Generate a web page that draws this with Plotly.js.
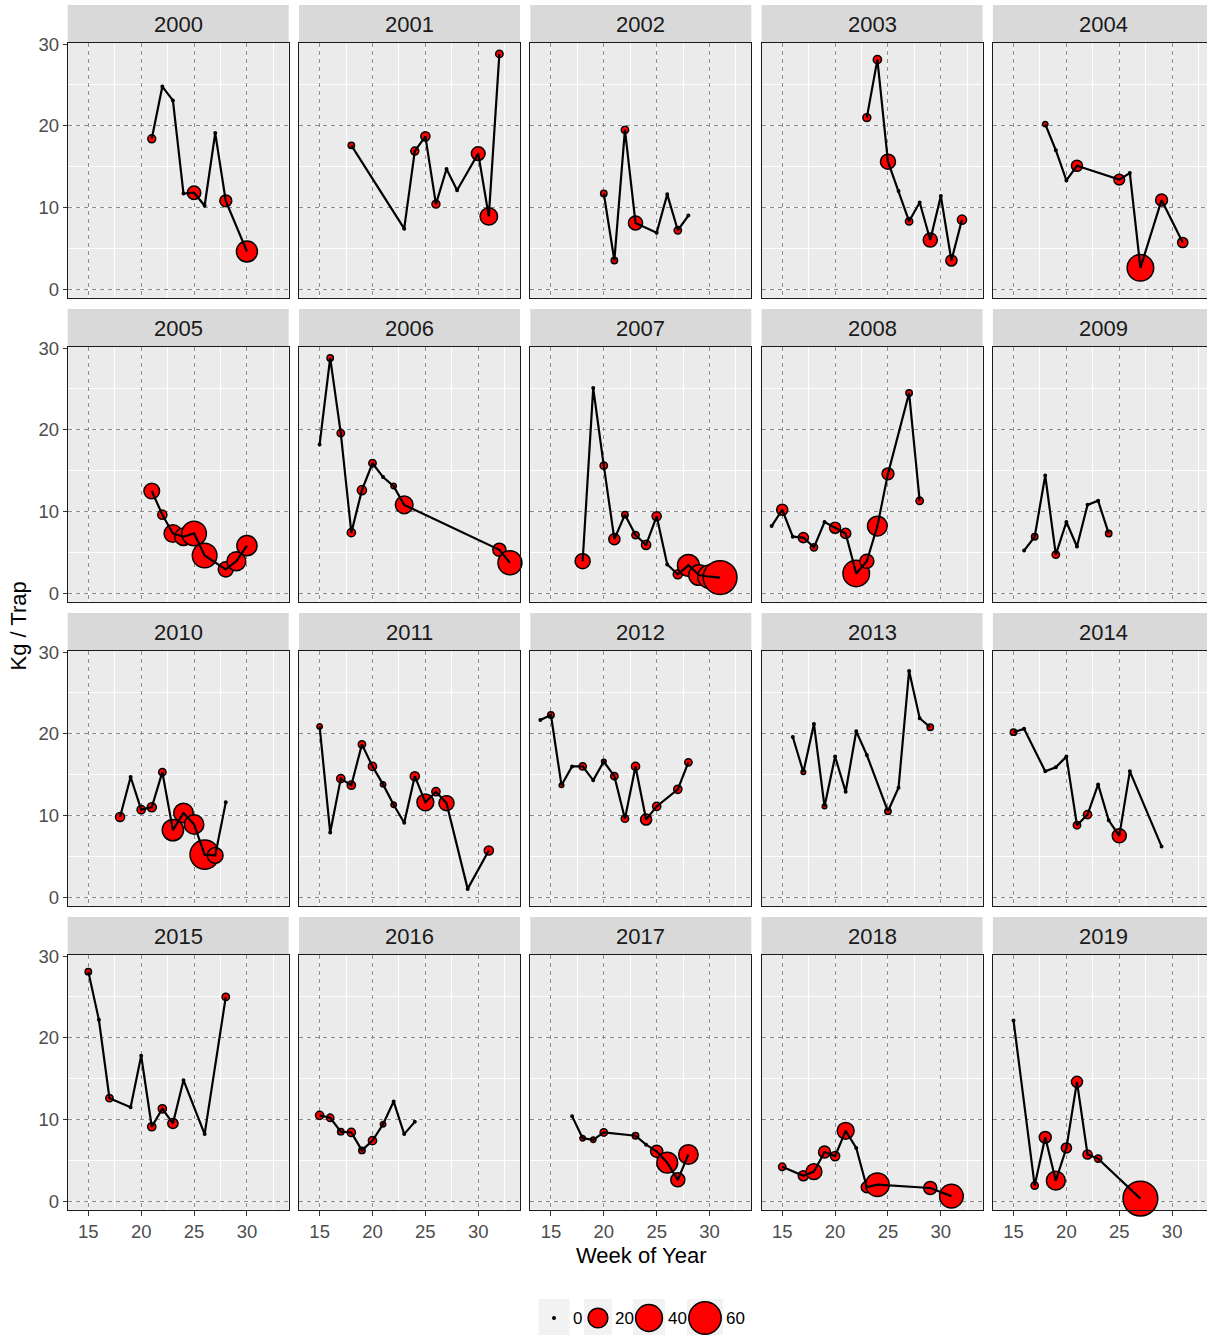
<!DOCTYPE html>
<html><head><meta charset="utf-8">
<script src="https://cdn.plot.ly/plotly-3.0.1.min.js"></script>
<style>html,body{margin:0;padding:0;overflow:hidden;background:#fff}#chart{width:1216px;height:1335px}</style>
</head><body><div id="chart"></div>
<script>
// ---------------- data ----------------
const years = [2000,2001,2002,2003,2004,2005,2006,2007,2008,2009,2010,2011,2012,2013,2014,2015,2016,2017,2018,2019];

const week_2000 = [21,22,23,24,25,26,27,28,30];
const kg_2000   = [18.4,24.8,23.1,11.7,11.8,10.2,19.1,10.8,4.6];
const n_2000    = [2,0,0,0,8,0,0,6,23];

const week_2001 = [18,23,24,25,26,27,28,30,31,32];
const kg_2001   = [17.6,7.4,16.9,18.7,10.4,14.7,12.1,16.6,8.9,28.8];
const n_2001    = [1,0,2,3,2,0,0,8.5,15,1.6];

const week_2002 = [20,21,22,23,25,26,27,28];
const kg_2002   = [11.7,3.5,19.5,8.1,6.9,11.6,7.2,9.0];
const n_2002    = [1,1,1.6,9,0,0,1.6,0];

const week_2003 = [23,24,25,26,27,28,29,30,31,32];
const kg_2003   = [21.0,28.1,15.6,12.0,8.3,10.6,6.0,11.4,3.5,8.5];
const n_2003    = [2,2.2,10.6,0,1.6,0,9,0,5,3];

const week_2004 = [18,19,20,21,25,26,27,29,31];
const kg_2004   = [20.2,17.0,13.3,15.1,13.4,14.2,2.6,10.9,5.7];
const n_2004    = [0.6,0,0,5,4.5,0,39,6,4];

const week_2005 = [21,22,23,24,25,26,28,29,30];
const kg_2005   = [12.5,9.6,7.3,6.9,7.3,4.6,2.9,3.9,5.8];
const n_2005    = [11.7,3,15.4,15,33,33,10.6,18,21];

const week_2006 = [15,16,17,18,19,20,21,22,23,32,33];
const kg_2006   = [18.2,28.8,19.6,7.4,12.6,15.9,14.2,13.1,10.8,5.3,3.7];
const n_2006    = [0,1,1.6,2.2,3,1.6,0,0.6,15.4,7.6,31];

const week_2007 = [18,19,20,21,22,23,24,25,26,27,28,29,30,31];
const kg_2007   = [3.9,25.1,15.6,6.6,9.6,7.1,5.9,9.4,3.5,2.3,3.4,2.2,2.0,1.9];
const n_2007    = [10.6,0,1.6,5,1,1.6,3,3,0,3,25,22,30,66];

const week_2008 = [14,15,16,17,18,19,20,21,22,23,24,25,27,28];
const kg_2008   = [8.2,10.2,6.9,6.8,5.6,8.7,8.0,7.3,2.4,3.9,8.2,14.6,24.5,11.3];
const n_2008    = [0,5,0,4,1.6,0,5,4,39,9,20,6,1,1.6];

const week_2009 = [16,17,18,19,20,21,22,23,24];
const kg_2009   = [5.2,6.9,14.4,4.7,8.7,5.7,10.8,11.3,7.3];
const n_2009    = [0,1,0,1.6,0,0,0,0,1];

const week_2010 = [18,19,20,21,22,23,24,25,26,27,28];
const kg_2010   = [9.8,14.7,10.7,11.0,15.3,8.2,10.3,8.9,5.2,5.1,11.6];
const n_2010    = [3,0,2.2,3,1.6,24,19.5,19.5,48,11.7,0];

const week_2011 = [15,16,17,18,19,20,21,22,23,24,25,26,27,29,31];
const kg_2011   = [20.9,7.9,14.5,13.7,18.7,16.0,13.8,11.3,9.1,14.8,11.6,12.9,11.5,1.0,5.7];
const n_2011    = [0.6,0,2.2,2.2,1.6,2.2,0.6,0.6,0,3,14,2.2,10.6,0,3];

const week_2012 = [14,15,16,17,18,19,20,21,22,23,24,25,27,28];
const kg_2012   = [21.7,22.3,13.7,16.0,16.0,14.3,16.6,14.8,9.6,16.0,9.5,11.1,13.2,16.5];
const n_2012    = [0,1,0.3,0,1.6,0,0.3,1.6,1.6,2.2,5,2.2,2.2,1.6];

const week_2013 = [16,17,18,19,20,21,22,23,25,26,27,28,29];
const kg_2013   = [19.6,15.3,21.2,11.1,17.2,12.9,20.3,17.4,10.5,13.4,27.7,21.9,20.8];
const n_2013    = [0,0.3,0,0.3,0,0,0,0,1,0,0,0,1];

const week_2014 = [15,16,18,19,20,21,22,23,24,25,26,29];
const kg_2014   = [20.2,20.6,15.4,15.9,17.2,8.8,10.1,13.8,9.4,7.5,15.4,6.2];
const n_2014    = [1,0,0,0,0,1.6,2.2,0,0,9,0,0];

const week_2015 = [15,16,17,19,20,21,22,23,24,26,28];
const kg_2015   = [28.1,22.2,12.6,11.5,17.8,9.1,11.3,9.5,14.8,8.2,25.0];
const n_2015    = [1,0,1.6,0,0,2.2,2.2,4,0,0,1.6];

const week_2016 = [15,16,17,18,19,20,21,22,23,24];
const kg_2016   = [10.5,10.2,8.5,8.4,6.2,7.4,9.4,12.2,8.2,9.7];
const n_2016    = [2.2,1.6,1,2.2,1,2.2,0.6,0,0,0];

const week_2017 = [17,18,19,20,23,24,25,26,27,28];
const kg_2017   = [10.4,7.7,7.5,8.4,8.0,6.9,6.1,4.7,2.6,5.7];
const n_2017    = [0,0.6,0.6,1.6,1,0,6.3,22.6,9,19.5];

const week_2018 = [15,17,18,19,20,21,22,23,24,29,31];
const kg_2018   = [4.2,3.1,3.6,6.0,5.5,8.6,6.5,1.7,2.0,1.6,0.6];
const n_2018    = [1.6,4,12,6,3,14,0,5,30,7.6,30];

const week_2019 = [15,17,18,19,20,21,22,23,27];
const kg_2019   = [22.1,1.9,7.8,2.5,6.5,14.6,5.7,5.2,0.3];
const n_2019    = [0,1.6,6,18,4,5,3,1.6,70];

const legendValues = [0,20,40,60];
const xTickVals = [15,20,25,30];
const yTickVals = [0,10,20,30];
const xTitle = 'Week of Year';
const yTitle = 'Kg / Trap';

const seriesByYear = {
  2000:[week_2000,kg_2000,n_2000], 2001:[week_2001,kg_2001,n_2001], 2002:[week_2002,kg_2002,n_2002],
  2003:[week_2003,kg_2003,n_2003], 2004:[week_2004,kg_2004,n_2004], 2005:[week_2005,kg_2005,n_2005],
  2006:[week_2006,kg_2006,n_2006], 2007:[week_2007,kg_2007,n_2007], 2008:[week_2008,kg_2008,n_2008],
  2009:[week_2009,kg_2009,n_2009], 2010:[week_2010,kg_2010,n_2010], 2011:[week_2011,kg_2011,n_2011],
  2012:[week_2012,kg_2012,n_2012], 2013:[week_2013,kg_2013,n_2013], 2014:[week_2014,kg_2014,n_2014],
  2015:[week_2015,kg_2015,n_2015], 2016:[week_2016,kg_2016,n_2016], 2017:[week_2017,kg_2017,n_2017],
  2018:[week_2018,kg_2018,n_2018], 2019:[week_2019,kg_2019,n_2019]
};

// ---------------- geometry / style ----------------
const W = 1216, H = 1335;
const left0 = 67.7, colPitch = 231.3, panelW = 221;
const top0 = 43.3, rowPitch = 304, panelH = 254.4, stripH = 38.3;
const FONT = 'Liberation Sans, Arial, Helvetica, sans-serif';
const OUTLINE = 1.5;
function diam(v){ return 4 + 3.85*Math.sqrt(v); }   // total diameter in px (ggplot area scale)
const px = x => x / W;
const py = y => 1 - y / H;

const traces = [];
const layout = {
  width: W, height: H,
  margin: {l:0, r:0, t:0, b:0},
  paper_bgcolor: '#ffffff', plot_bgcolor: '#EBEBEB',
  showlegend: false,
  font: {family: FONT, color: '#4D4D4D'},
  shapes: [], annotations: []
};

years.forEach((yr, i) => {
  const col = i % 5, row = Math.floor(i / 5);
  const L = left0 + col*colPitch, T = top0 + row*rowPitch;
  const sfx = i === 0 ? '' : String(i+1);
  const xa = 'x' + sfx, ya = 'y' + sfx;
  const [wk, kg, n] = seriesByYear[yr];

  traces.push({
    type: 'scatter', mode: 'markers', x: wk, y: kg, xaxis: xa, yaxis: ya,
    marker: {color: '#FF0000', opacity: 1, size: n.map(v => diam(v) - OUTLINE), line: {color: '#000000', width: OUTLINE}},
    hoverinfo: 'skip', cliponaxis: false
  });
  traces.push({
    type: 'scatter', mode: 'lines', x: wk, y: kg, xaxis: xa, yaxis: ya,
    line: {color: '#000000', width: 2.2}, hoverinfo: 'skip'
  });

  const bottomRow = row === 3, leftCol = col === 0;
  layout['xaxis' + sfx] = {
    domain: [px(L), px(L + panelW)], anchor: ya,
    range: [13.05, 33.95], tickmode: 'array', tickvals: xTickVals,
    showticklabels: bottomRow, ticks: bottomRow ? 'outside' : '', ticklen: 5, tickcolor: '#333333', tickwidth: 1,
    tickfont: {size: 18.5, color: '#4D4D4D', family: FONT},
    showgrid: true, gridcolor: '#8C8C8C', gridwidth: 1, griddash: '4px,4px',
    minor: {dtick: 2.5, tick0: 0, showgrid: true, gridcolor: '#FFFFFF', gridwidth: 1, griddash: 'solid'},
    zeroline: false, showline: true, mirror: true, linecolor: '#1A1A1A', linewidth: 1,
    fixedrange: true
  };
  layout['yaxis' + sfx] = {
    domain: [py(T + panelH), py(T)], anchor: xa,
    range: [-1.06, 30.1], tickmode: 'array', tickvals: yTickVals,
    showticklabels: leftCol, ticks: leftCol ? 'outside' : '', ticklen: 4, tickcolor: '#333333', tickwidth: 1,
    tickfont: {size: 18.5, color: '#4D4D4D', family: FONT},
    showgrid: true, gridcolor: '#8C8C8C', gridwidth: 1, griddash: '4px,4px',
    minor: {dtick: 5, tick0: 0, showgrid: true, gridcolor: '#FFFFFF', gridwidth: 1, griddash: 'solid'},
    zeroline: false, showline: true, mirror: true, linecolor: '#1A1A1A', linewidth: 1,
    fixedrange: true
  };

  // facet strip
  layout.shapes.push({type: 'rect', xref: 'paper', yref: 'paper',
    x0: px(L), x1: px(L + panelW), y0: py(T), y1: py(T - stripH),
    fillcolor: '#D9D9D9', line: {width: 0}, layer: 'below'});
  layout.annotations.push({xref: 'paper', yref: 'paper', x: px(L + panelW/2), y: py(T - stripH/2),
    text: String(yr), showarrow: false, xanchor: 'center', yanchor: 'middle',
    font: {size: 22, color: '#1A1A1A', family: FONT}});
});

// axis titles
layout.annotations.push({xref: 'paper', yref: 'paper', x: px(640.8), y: py(1255), text: xTitle,
  showarrow: false, xanchor: 'center', yanchor: 'middle', font: {size: 22, color: '#000000', family: FONT}});
layout.annotations.push({xref: 'paper', yref: 'paper', x: px(18), y: py(626.5), text: yTitle, textangle: -90,
  showarrow: false, xanchor: 'center', yanchor: 'middle', font: {size: 22, color: '#000000', family: FONT}});

// size legend (bottom)
const keyCenters = [554, 598, 649, 705];
const keyWidths = [31, 28, 32, 36];
const keyY = 1318;
legendValues.forEach((v, k) => {
  const cx = keyCenters[k], kw = keyWidths[k];
  layout.shapes.push({type: 'rect', xref: 'paper', yref: 'paper',
    x0: px(cx - kw/2), x1: px(cx + kw/2), y0: py(1340), y1: py(1299),
    fillcolor: '#F2F2F2', line: {width: 0}});
  const d = diam(v) - OUTLINE;
  layout.shapes.push({type: 'circle', xref: 'paper', yref: 'paper',
    x0: px(cx - d/2), x1: px(cx + d/2), y0: py(keyY + d/2), y1: py(keyY - d/2),
    fillcolor: v === 0 ? '#000000' : '#FF0000', line: {color: '#000000', width: OUTLINE}});
  layout.annotations.push({xref: 'paper', yref: 'paper', x: px(cx + kw/2 + 1), y: py(keyY),
    text: String(v), showarrow: false, xanchor: 'left', yanchor: 'middle',
    font: {size: 17, color: '#000000', family: FONT}});
});

Plotly.newPlot('chart', traces, layout, {staticPlot: true, displayModeBar: false});
</script></body></html>
